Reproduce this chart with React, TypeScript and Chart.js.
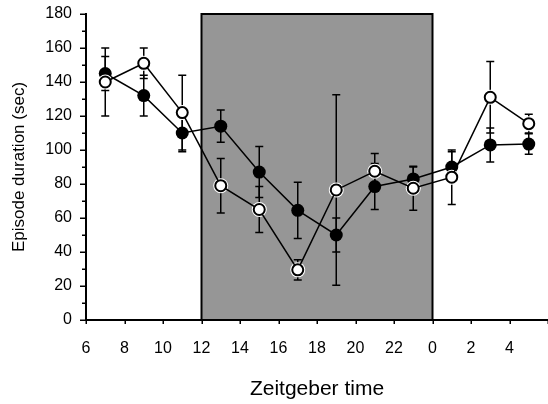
import React, { useEffect, useRef } from 'react';
import { Chart, registerables } from 'chart.js';

Chart.register(...registerables);

// ---- data ----
const hours = [7, 9, 11, 13, 15, 17, 19, 21, 23, 25, 27, 29];
const filledMean = [145, 132, 110, 114, 87, 64.5, 50, 78.5, 83, 90, 103, 103.5];
const filledErr = [10, 12, 11, 9.5, 15, 16.5, 10, 13.5, 7, 9, 10, 6];
const openMean = [140, 151, 122, 79, 65, 29.5, 76.5, 87.5, 77.5, 84, 131, 115.5];
const openErr = [20, 9, 22, 16, 13.5, 6, 56, 10.5, 13, 16, 21, 5.5];

const darkStart = 12;
const darkEnd = 24;
const xMin = 6;
const xMax = 30;
const xStep = 2;
const yMin = 0;
const yMax = 180;
const yStep = 20;
const yMinorValues = [10, 30, 50, 70, 90, 110, 130, 150, 170];
const xTitle = 'Zeitgeber time';
const yTitle = 'Episode duration (sec)';

const FONT = "'Liberation Sans', Arial, Helvetica, sans-serif";

const decorPlugin = {
  id: 'decor',
  beforeDatasetsDraw(chart: any) {
    const { ctx } = chart;
    const x = chart.scales.x;
    const y = chart.scales.y;
    ctx.save();
    // dark phase box
    const l = x.getPixelForValue(darkStart);
    const r = x.getPixelForValue(darkEnd);
    const t = y.getPixelForValue(yMax);
    const b = y.getPixelForValue(yMin);
    ctx.fillStyle = '#969696';
    ctx.fillRect(l, t, r - l, b - t);
    ctx.strokeStyle = '#000';
    ctx.lineWidth = 2;
    ctx.strokeRect(l, t, r - l, b - t);

    // tick marks
    ctx.lineWidth = 1.5;
    const ax = x.left;
    const ay = y.bottom;
    y.ticks.forEach((tk: any) => {
      const py = Math.round(y.getPixelForValue(tk.value)) + 0.25;
      ctx.beginPath();
      ctx.moveTo(ax - 6, py);
      ctx.lineTo(ax, py);
      ctx.stroke();
    });
    yMinorValues.forEach((v) => {
      const py = Math.round(y.getPixelForValue(v)) + 0.25;
      ctx.beginPath();
      ctx.moveTo(ax - 4, py);
      ctx.lineTo(ax, py);
      ctx.stroke();
    });
    x.ticks.forEach((tk: any) => {
      const px = Math.round(x.getPixelForValue(tk.value)) + 0.25;
      ctx.beginPath();
      ctx.moveTo(px, ay);
      ctx.lineTo(px, ay + 4);
      ctx.stroke();
    });

    // error bars
    const cap = 4;
    const drawErr = (means: number[], errs: number[]) => {
      ctx.strokeStyle = '#000';
      ctx.lineWidth = 1.5;
      hours.forEach((h, i) => {
        const px = x.getPixelForValue(h);
        const top = y.getPixelForValue(means[i] + errs[i]);
        const bot = y.getPixelForValue(means[i] - errs[i]);
        ctx.beginPath();
        ctx.moveTo(px, top);
        ctx.lineTo(px, bot);
        ctx.moveTo(px - cap, top);
        ctx.lineTo(px + cap, top);
        ctx.moveTo(px - cap, bot);
        ctx.lineTo(px + cap, bot);
        ctx.stroke();
      });
    };
    drawErr(filledMean, filledErr);
    drawErr(openMean, openErr);
    ctx.restore();
  },
};

export default function App() {
  const ref = useRef<HTMLCanvasElement | null>(null);

  useEffect(() => {
    document.body.style.margin = '0';
    const canvas = ref.current;
    if (!canvas) return;
    const toPts = (m: number[]) => hours.map((h, i) => ({ x: h, y: m[i] }));
    const chart = new Chart(canvas, {
      type: 'line',
      data: {
        datasets: [
          {
            label: 'open',
            data: toPts(openMean),
            borderColor: '#000',
            borderWidth: 1.5,
            pointRadius: 5.5,
            pointBorderWidth: 2,
            pointBackgroundColor: '#fff',
            pointBorderColor: '#000',
            tension: 0,
          },
          {
            label: 'halo',
            data: toPts(openMean),
            showLine: false,
            pointRadius: 7.5,
            pointBorderWidth: 0,
            pointBackgroundColor: '#fff',
            pointBorderColor: '#fff',
          },
          {
            label: 'filled',
            data: toPts(filledMean),
            borderColor: '#000',
            borderWidth: 1.5,
            pointRadius: 6.5,
            pointBorderWidth: 0,
            pointBackgroundColor: '#000',
            pointBorderColor: '#000',
            tension: 0,
          },
        ],
      },
      options: {
        animation: false,
        responsive: false,
        events: [],
        layout: { autoPadding: false, padding: { top: 14, right: 0, left: 0, bottom: 0 } },
        plugins: { legend: { display: false }, tooltip: { enabled: false } },
        scales: {
          x: {
            type: 'linear',
            min: xMin,
            max: xMax,
            afterFit: (s: any) => {
              s.height = 84;
              s.paddingLeft = 0;
              s.paddingRight = 0;
            },
            grid: { drawOnChartArea: false, drawTicks: true, tickLength: 19, tickColor: 'rgba(0,0,0,0)' },
            border: { color: '#000', width: 2 },
            ticks: {
              stepSize: xStep,
              autoSkip: false,
              maxRotation: 0,
              padding: 0,
              color: '#000',
              font: { family: FONT, size: 16 },
              callback: (v: any) => (v >= xMax ? '' : String(v % 24)),
            },
            title: {
              display: true,
              text: xTitle,
              color: '#000',
              font: { family: FONT, size: 21 },
              padding: { top: 0, bottom: 2 },
            },
          },
          y: {
            min: yMin,
            max: yMax,
            afterFit: (s: any) => {
              s.width = 86;
              s.paddingTop = 0;
              s.paddingBottom = 0;
            },
            grid: { drawOnChartArea: false, drawTicks: true, tickLength: 14, tickColor: 'rgba(0,0,0,0)' },
            border: { color: '#000', width: 2 },
            ticks: {
              stepSize: yStep,
              padding: 0,
              color: '#000',
              font: { family: FONT, size: 16 },
            },
            title: {
              display: true,
              text: yTitle,
              color: '#000',
              font: { family: FONT, size: 17 },
              padding: { top: 9, bottom: 0 },
            },
          },
        },
      },
      plugins: [decorPlugin],
    });
    return () => chart.destroy();
  }, []);

  return <canvas ref={ref} width={548} height={404} style={{ display: 'block' }} />;
}
